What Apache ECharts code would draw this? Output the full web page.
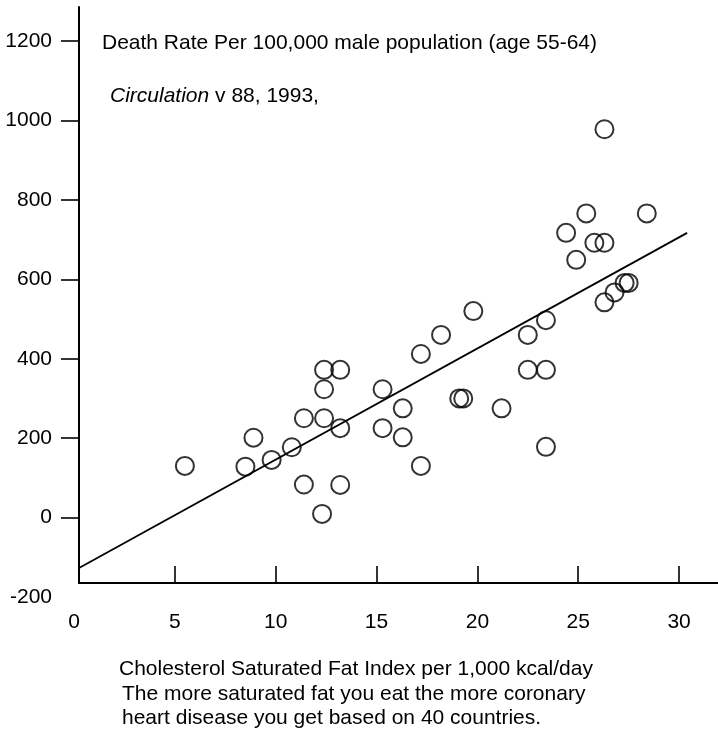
<!DOCTYPE html>
<html>
<head>
<meta charset="utf-8">
<script src="https://cdn.jsdelivr.net/npm/echarts@6/dist/echarts.min.js"></script>
<style>
html,body{margin:0;padding:0;background:#fff;}
#c{width:718px;height:744px;}
</style>
</head>
<body>
<div id="c"></div>
<script>
// ---- data ----
const fatIndex = [5.5, 8.9, 8.5, 9.8, 10.8, 11.4, 12.4, 12.4, 13.2, 12.4, 13.2, 11.4, 13.2, 12.3,
  15.3, 16.3, 15.3, 16.3, 17.2, 17.2, 18.2, 19.8, 19.1, 19.3, 21.2, 22.5, 22.5, 23.4, 23.4, 23.4,
  26.3, 25.4, 28.4, 24.4, 25.8, 26.3, 24.9, 26.3, 26.8, 27.3, 27.5];
const deathRate = [130, 201, 128, 145, 177, 250, 250, 372, 372, 323, 225, 83, 82, 9,
  323, 275, 225, 202, 130, 412, 460, 520, 300, 300, 275, 460, 372, 372, 497, 178,
  978, 766, 766, 717, 692, 692, 649, 542, 567, 591, 591];
const fitX = [0.25, 30.4];
const fitY = [-127, 717];
const xTickValues = [5, 10, 15, 20, 25, 30];
const xLabelValues = [0, 5, 10, 15, 20, 25, 30];
const yTickValues = [0, 200, 400, 600, 800, 1000, 1200];
const yLabelValues = [-200, 0, 200, 400, 600, 800, 1000, 1200];
const titleLine1 = 'Death Rate Per 100,000 male population (age 55-64)';
const titleJournal = 'Circulation';
const titleRest = ' v 88, 1993,';
const captionLines = [
  'Cholesterol Saturated Fat Index per 1,000 kcal/day',
  'The more saturated fat you eat the more coronary',
  'heart disease you get based on 40 countries.'
];

const FONT = '"Liberation Sans", Arial, Helvetica, sans-serif';
const points = fatIndex.map((x, i) => [x, deathRate[i]]);
const fitLine = fitX.map((x, i) => [x, fitY[i]]);
const plain = v => String(v);

const chart = echarts.init(document.getElementById('c'), null, {renderer: 'canvas'});
chart.setOption({
  animation: false,
  backgroundColor: '#fff',
  grid: [
    {left: 79, right: 0, top: 7, bottom: 161},
    {left: 74, right: 0, top: 41, bottom: 147}
  ],
  xAxis: [
    {
      type: 'value', gridIndex: 0, min: 0.25, max: 31.93,
      axisLine: {show: true, onZero: false, lineStyle: {color: '#000', width: 2}},
      axisTick: {show: true, inside: true, length: 17, customValues: xTickValues, lineStyle: {color: '#000', width: 1.6}},
      axisLabel: {show: false},
      splitLine: {show: false}
    },
    {
      type: 'value', gridIndex: 1, min: 0, max: 31.93,
      axisLine: {show: false, onZero: false},
      axisTick: {show: false},
      axisLabel: {show: true, customValues: xLabelValues, formatter: plain, margin: 15, color: '#000', fontSize: 21, fontFamily: FONT},
      splitLine: {show: false}
    }
  ],
  yAxis: [
    {
      type: 'value', gridIndex: 0, min: -165, max: 1286,
      axisLine: {show: true, onZero: false, lineStyle: {color: '#000', width: 2}},
      axisTick: {show: true, length: 18, customValues: yTickValues, lineStyle: {color: '#000', width: 1.6}},
      axisLabel: {show: false},
      splitLine: {show: false}
    },
    {
      type: 'value', gridIndex: 1, min: -200, max: 1200,
      axisLine: {show: false, onZero: false},
      axisTick: {show: false},
      axisLabel: {show: true, customValues: yLabelValues, formatter: plain, margin: 22, color: '#000', fontSize: 21, fontFamily: FONT},
      splitLine: {show: false}
    }
  ],
  series: [
    {
      type: 'line', xAxisIndex: 0, yAxisIndex: 0, data: fitLine,
      symbol: 'none', lineStyle: {color: '#000', width: 1.8}, silent: true
    },
    {
      type: 'scatter', xAxisIndex: 0, yAxisIndex: 0, data: points,
      symbol: 'circle', symbolSize: 18,
      itemStyle: {color: 'rgba(0,0,0,0)', borderColor: '#000', borderWidth: 2}
    }
  ],
  graphic: [
    {type: 'text', left: 102, top: 45 - 12, style: {text: titleLine1, font: '21px ' + FONT, fill: '#000'}},
    {type: 'text', left: 110, top: 98 - 12, style: {
      text: '{i|' + titleJournal + '}' + titleRest,
      font: '21px ' + FONT, fill: '#000',
      rich: {i: {fontStyle: 'italic', fontSize: 21, fontFamily: FONT, fill: '#000'}}
    }},
    {type: 'text', left: 119, top: 671 - 12, style: {text: captionLines[0], font: '21px ' + FONT, fill: '#000'}},
    {type: 'text', left: 122, top: 696 - 12, style: {text: captionLines[1], font: '21px ' + FONT, fill: '#000'}},
    {type: 'text', left: 122, top: 720 - 12, style: {text: captionLines[2], font: '21px ' + FONT, fill: '#000'}}
  ]
});
</script>
</body>
</html>
